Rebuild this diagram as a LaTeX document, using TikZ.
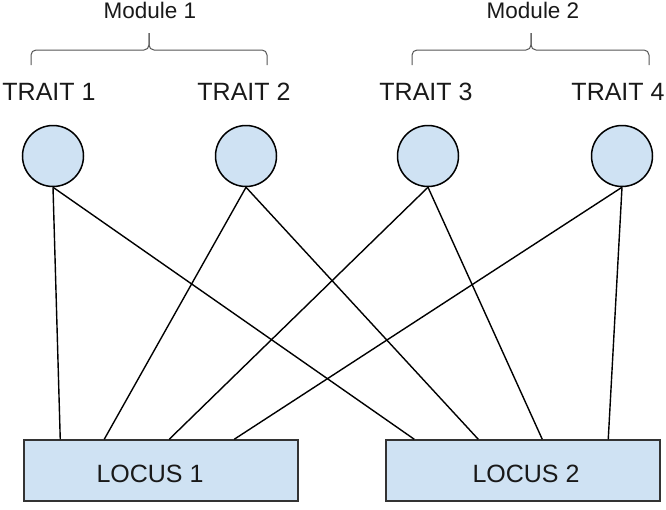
\documentclass[tikz,border=0pt]{standalone}
\usepackage{fontspec}
\setmainfont{Liberation Sans}
\usetikzlibrary{calc}
\definecolor{nodeblue}{HTML}{CFE2F3}
\definecolor{bracegray}{HTML}{555555}
\begin{document}
\begin{tikzpicture}[x=1pt,y=-1pt,
  trait/.style={circle,draw=black,line width=1.5pt,fill=nodeblue,minimum size=61pt,inner sep=0pt},
  locus/.style={rectangle,draw=black!80,line width=1.5pt,fill=nodeblue,minimum width=274pt,minimum height=61pt,inner sep=0pt},
  ttxt/.style={anchor=base,font=\fontsize{25}{28}\selectfont,text=black!90,inner sep=0pt},
  mtxt/.style={anchor=base,font=\fontsize{22.5}{26}\selectfont,text=black!90,inner sep=0pt},
  link/.style={draw=black,line width=1.4pt},
  bracepath/.style={draw=bracegray,line width=1pt,rounded corners=5pt}]
\useasboundingbox (0,0) rectangle (666,509);
% modules
\node[mtxt] (m1) at (150,18) {Module 1};
\node[mtxt] (m2) at (533,18) {Module 2};
\path[bracepath] (31,65) -- (31,50) -- (149,50) -- (149,33);
\path[bracepath] (267,65) -- (267,50) -- (149,50) -- (149,33);
\path[bracepath] (412,65) -- (412,50) -- (531,50) -- (531,33);
\path[bracepath] (649,65) -- (649,50) -- (531,50) -- (531,33);
% trait labels
\node[ttxt] (tl1) at (49,100) {TRAIT 1};
\node[ttxt] (tl2) at (244,100) {TRAIT 2};
\node[ttxt] (tl3) at (426,100) {TRAIT 3};
\node[ttxt] (tl4) at (618,100) {TRAIT 4};
% loci
\node[locus] (l1) at (161,470.5) {};
\node[locus] (l2) at (523,470.5) {};
\node[ttxt] (ll1) at (150,482) {LOCUS 1};
\node[ttxt] (ll2) at (526,482) {LOCUS 2};
% link end points on the loci
\coordinate (a1) at ([xshift=37pt]l1.north west);
\coordinate (a2) at ([xshift=81pt]l1.north west);
\coordinate (a3) at ([xshift=146pt]l1.north west);
\coordinate (a4) at ([xshift=211pt]l1.north west);
\coordinate (b1) at ([xshift=29pt]l2.north west);
\coordinate (b2) at ([xshift=93pt]l2.north west);
\coordinate (b3) at ([xshift=157pt]l2.north west);
\coordinate (b4) at ([xshift=223pt]l2.north west);
% traits
\node[trait] (t1) at (53,156) {};
\node[trait] (t2) at (246,156) {};
\node[trait] (t3) at (428,156) {};
\node[trait] (t4) at (622,156) {};
\draw[link] (t1.south) -- (a1);
\draw[link] (t1.south) -- (b1);
\draw[link] (t2.south) -- (a2);
\draw[link] (t2.south) -- (b2);
\draw[link] (t3.south) -- (a3);
\draw[link] (t3.south) -- (b3);
\draw[link] (t4.south) -- (a4);
\draw[link] (t4.south) -- (b4);
\end{tikzpicture}
\end{document}
